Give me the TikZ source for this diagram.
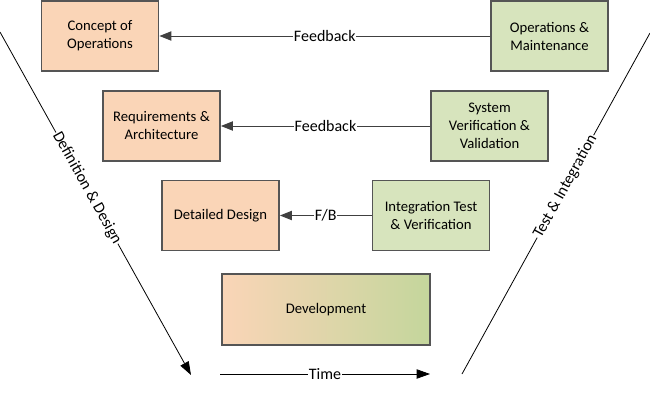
\documentclass[tikz,border=0pt]{standalone}
\usepackage{fontspec}
\setmainfont{Carlito}
\usepackage{xcolor}
\usepackage{tikz}
\usetikzlibrary{positioning,arrows.meta}
\definecolor{peach}{HTML}{FAD5B7}
\definecolor{sage}{HTML}{D7E4BD}
\definecolor{sagedeep}{HTML}{C4D69C}
\definecolor{edgegrey}{HTML}{555555}
\definecolor{linegrey}{HTML}{404040}
\tikzset{
  phase/.style={rectangle, draw=edgegrey, fill=#1, line width=1.1pt,
                align=center, font=\fontsize{11}{13.5}\selectfont,
                minimum width=88pt, minimum height=52.5pt, inner sep=3pt},
  fb/.style={-{Triangle[length=9pt,width=7pt]}, line width=0.75pt, draw=linegrey},
  axis/.style={line width=0.6pt, draw=black},
  lbl/.style={font=\fontsize{12}{14}\selectfont, fill=white, inner sep=0.5pt},
}

\begin{document}
\begin{tikzpicture}[x=0.75pt,y=-0.75pt]
  \useasboundingbox (0,0) rectangle (650,393);

  % left leg
  \node[phase=peach] (conops)  at (100,36)    {Concept of\\Operations};
  \node[phase=peach] (reqarch) at (161.5,126) {Requirements \&\\Architecture};
  \node[phase=peach] (detdes)  at (220.5,215.5) {Detailed Design};

  % right leg
  \node[phase=sage] (opsmaint) at (549.5,36)  {Operations \&\\Maintenance};
  \node[phase=sage] (sysvv)    at (489.5,126) {System\\Verification \&\\Validation};
  \node[phase=sage] (inttest)  at (431,215.5) {Integration Test\\\& Verification};

  % bottom
  \node[phase=peach, left color=peach, right color=sagedeep,
        minimum width=156pt, minimum height=53pt] (dev) at (326,309.5) {Development};

  % feedback
  \draw[fb] (opsmaint.west) -- (conops.east) node[lbl, midway] {Feedback};
  \draw[fb] (sysvv.west) -- (reqarch.east) node[lbl, midway] {Feedback};
  \draw[fb] (inttest.west) -- (detdes.east) node[lbl, midway] {F/B};

  % axes
  \coordinate (t0) at (220,374);
  \coordinate (t1) at (430,374);
  \draw[axis, -{Triangle[length=10pt,width=7pt]}] (t0) -- (t1) node[lbl, midway] {Time};

  \coordinate (dd0) at (0,32);
  \coordinate (dd1) at (191,375);
  \draw[axis, -{Triangle[length=10pt,width=7pt]}] (dd0) -- (dd1)
    node[lbl, pos=0.455, sloped] {Definition \& Design};

  \coordinate (ti0) at (462,374);
  \coordinate (ti1) at (650,33);
  \draw[axis] (ti0) -- (ti1) node[lbl, pos=0.55, sloped] {Test \& Integration};
\end{tikzpicture}
\end{document}
